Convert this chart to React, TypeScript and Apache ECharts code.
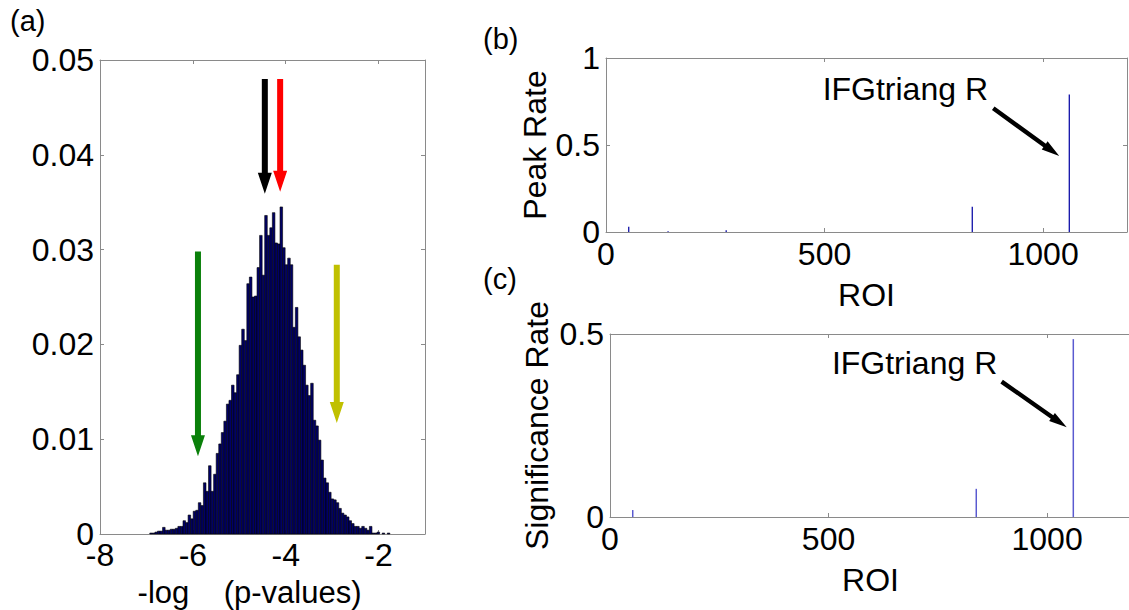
import React, { useEffect, useRef } from "react";
import * as echarts from "echarts";

// ---------- data ----------
// Panel (a): histogram of -log(p-values)
const histFirstCenter = -7.175;
const histBinWidth = 0.055;
const histValues = [
  0, 0, 0, 0, 0, 0.0001, 0.0001, 0.0002, 0.0003, 0.0003,
  0.0007, 0.0004, 0.0004, 0.0005, 0.0005, 0.0006, 0.0008, 0.0008, 0.0014, 0.0012,
  0.002, 0.0016, 0.0024, 0.0025, 0.0033, 0.003, 0.0054, 0.0045, 0.0072, 0.0045,
  0.0063, 0.0085, 0.0095, 0.0107, 0.0119, 0.0137, 0.0141, 0.0157, 0.0149, 0.0168,
  0.0199, 0.0216, 0.0204, 0.0264, 0.0271, 0.025, 0.0251, 0.0281, 0.0315, 0.0273,
  0.0336, 0.0315, 0.0323, 0.0339, 0.0307, 0.0306, 0.0345, 0.0302, 0.0284, 0.0291,
  0.0284, 0.0218, 0.0239, 0.0208, 0.0194, 0.0178, 0.0157, 0.0146, 0.0159, 0.012,
  0.0114, 0.0099, 0.0078, 0.0059, 0.0054, 0.0044, 0.0037, 0.0036, 0.0033, 0.0027,
  0.0022, 0.002, 0.0018, 0.0014, 0.0011, 0.0008, 0.0008, 0.0006, 0.0008, 0.0006,
  0.0004, 0.0008, 0.0001, 0.0001, 0.0002, 0, 0.0001, 0, 0.0001, 0,
];
const histXTicks = { min: -8, max: -1, interval: 2 };
const histYTicks = { min: 0, max: 0.05, interval: 0.01 };
const histXName = "-log    (p-values)   ";
const histArrowX = [-4.45, -4.12, -5.89, -2.9];
const histArrowTop = [0.048, 0.048, 0.0298, 0.0284];
const histArrowTip = [0.0359, 0.0361, 0.0082, 0.0117];
const histArrowColors = ["#000000", "#ff0000", "#0a800a", "#c0c000"];

// Panel (b): peak rate per ROI
const roiMax = 1192;
const roiInterval = 500;
const peakRoi = [52, 142, 275, 838, 1060];
const peakRate = [0.03, 0.005, 0.01, 0.145, 0.79];
const peakArrow = [886, 0.711, 1037, 0.437, 874, 0.822];

// Panel (c): significance rate per ROI
const sigRoi = [52, 838, 1060];
const sigRate = [0.019, 0.077, 0.486];
const sigArrow = [896, 0.37, 1045, 0.245, 886, 0.421];

const annotationText = "IFGtriang R";
const panelLetters = ["(a)", "(b)", "(c)"];

// ---------- style ----------
const FONT = '"Liberation Sans", Arial, Helvetica, sans-serif';
const GRAY = "#8a8a8a";
const FS = 32;

const fmt = (v: number) => String(+(+v).toFixed(4));

function bottomAxis(
  gridIndex: number,
  min: number,
  max: number,
  interval: number,
  name: string,
  nameGap: number,
  margin: number,
  nameSize: number
) {
  return {
    type: "value",
    gridIndex,
    position: "bottom",
    min,
    max,
    interval,
    name,
    nameLocation: "middle",
    nameGap,
    nameMoveOverlap: false,
    nameTextStyle: { fontSize: nameSize, lineHeight: 28, color: "#000", fontFamily: FONT },
    axisLine: { show: true, onZero: false, lineStyle: { color: GRAY, width: 1 } },
    axisTick: { show: true, inside: true, length: 4, lineStyle: { color: GRAY } },
    axisLabel: {
      show: true,
      fontSize: FS,
      lineHeight: 24,
      color: "#000",
      fontFamily: FONT,
      margin,
      showMaxLabel: false,
      formatter: fmt,
    },
    splitLine: { show: false },
  };
}
function topAxis(gridIndex: number, min: number, max: number, interval: number) {
  return {
    type: "value",
    gridIndex,
    position: "top",
    min,
    max,
    interval,
    axisLine: { show: true, onZero: false, lineStyle: { color: GRAY, width: 1 } },
    axisTick: { show: true, inside: true, length: 4, lineStyle: { color: GRAY } },
    axisLabel: { show: false },
    splitLine: { show: false },
  };
}
function leftAxis(gridIndex: number, min: number, max: number, interval: number, name: string, nameGap: number) {
  return {
    type: "value",
    gridIndex,
    position: "left",
    min,
    max,
    interval,
    name,
    nameLocation: "middle",
    nameGap,
    nameMoveOverlap: false,
    nameTextStyle: { fontSize: FS, lineHeight: 32, color: "#000", fontFamily: FONT },
    axisLine: { show: true, onZero: false, lineStyle: { color: GRAY, width: 1 } },
    axisTick: { show: true, inside: true, length: 4, lineStyle: { color: GRAY } },
    axisLabel: { show: true, fontSize: FS, lineHeight: 20, color: "#000", fontFamily: FONT, margin: 6, formatter: fmt },
    splitLine: { show: false },
  };
}
function rightAxis(gridIndex: number, min: number, max: number, interval: number) {
  return {
    type: "value",
    gridIndex,
    position: "right",
    min,
    max,
    interval,
    axisLine: { show: true, onZero: false, lineStyle: { color: GRAY, width: 1 } },
    axisTick: { show: true, inside: true, length: 4, lineStyle: { color: GRAY } },
    axisLabel: { show: false },
    splitLine: { show: false },
  };
}

function spikeSeries(axisIndex: number, xs: number[], ys: number[], color: string, width: number) {
  return {
    type: "custom",
    xAxisIndex: axisIndex,
    yAxisIndex: axisIndex,
    encode: { x: 0, y: 1 },
    data: xs.map((x, i) => [x, ys[i]]),
    renderItem: (_params: any, api: any) => {
      const x = api.value(0);
      const y = api.value(1);
      const p0 = api.coord([x, 0]);
      const p1 = api.coord([x, y]);
      return {
        type: "line",
        shape: { x1: p0[0], y1: p0[1], x2: p1[0], y2: p1[1] },
        style: { stroke: color, lineWidth: width },
      };
    },
  };
}

function annotationSeries(axisIndex: number, arrow: number[]) {
  return {
    type: "custom",
    xAxisIndex: axisIndex,
    yAxisIndex: axisIndex,
    encode: { x: [0, 2, 4], y: [1, 3, 5] },
    data: [arrow],
    renderItem: (_params: any, api: any) => {
      const a = api.coord([api.value(0), api.value(1)]);
      const b = api.coord([api.value(2), api.value(3)]);
      const t = api.coord([api.value(4), api.value(5)]);
      const dx = b[0] - a[0];
      const dy = b[1] - a[1];
      const len = Math.sqrt(dx * dx + dy * dy);
      const ux = dx / len;
      const uy = dy / len;
      const nx = -uy;
      const ny = ux;
      const sw = 2.2;
      const hw = 5;
      const hl = 18;
      const bx = b[0] - ux * hl;
      const by = b[1] - uy * hl;
      const pts = [
        [a[0] + nx * sw, a[1] + ny * sw],
        [bx + nx * sw, by + ny * sw],
        [bx + nx * hw, by + ny * hw],
        [b[0], b[1]],
        [bx - nx * hw, by - ny * hw],
        [bx - nx * sw, by - ny * sw],
        [a[0] - nx * sw, a[1] - ny * sw],
      ];
      return {
        type: "group",
        children: [
          { type: "polygon", shape: { points: pts }, style: { fill: "#000" } },
          {
            type: "text",
            x: t[0],
            y: t[1],
            style: {
              text: annotationText,
              fill: "#000",
              fontSize: 32,
              fontFamily: FONT,
              align: "right",
              verticalAlign: "middle",
            },
          },
        ],
      };
    },
  };
}

export default function App() {
  const ref = useRef<HTMLDivElement>(null);

  useEffect(() => {
    document.body.style.margin = "0";
    if (!ref.current) return;
    const chart = echarts.init(ref.current, null, { renderer: "svg" });

    const option: any = {
      animation: false,
      backgroundColor: "#ffffff",
      textStyle: { fontFamily: FONT },
      grid: [
        { left: 100, top: 60, width: 325, height: 474, containLabel: false, outerBoundsMode: "none" },
        { left: 606, top: 58, width: 521, height: 174, containLabel: false, outerBoundsMode: "none" },
        { left: 610, top: 334, width: 521, height: 183, containLabel: false, outerBoundsMode: "none" },
      ],
      xAxis: [
        bottomAxis(0, histXTicks.min, histXTicks.max, histXTicks.interval, histXName, 44, 9, 31),
        topAxis(0, histXTicks.min, histXTicks.max, histXTicks.interval),
        bottomAxis(1, 0, roiMax, roiInterval, "ROI", 49, 10, 32),
        topAxis(1, 0, roiMax, roiInterval),
        bottomAxis(2, 0, roiMax, roiInterval, "ROI", 49, 10, 32),
        topAxis(2, 0, roiMax, roiInterval),
      ],
      yAxis: [
        leftAxis(0, histYTicks.min, histYTicks.max, histYTicks.interval, "", 0),
        rightAxis(0, histYTicks.min, histYTicks.max, histYTicks.interval),
        leftAxis(1, 0, 1, 0.5, "Peak Rate", 55),
        rightAxis(1, 0, 1, 0.5),
        leftAxis(2, 0, 0.5, 0.5, "Significance Rate", 57),
        rightAxis(2, 0, 0.5, 0.5),
      ],
      graphic: [
        { type: "text", left: 10, top: 6, style: { text: panelLetters[0], fontSize: 29, fontFamily: FONT, fill: "#000" } },
        { type: "text", left: 483, top: 24, style: { text: panelLetters[1], fontSize: 29, fontFamily: FONT, fill: "#000" } },
        { type: "text", left: 483, top: 264, style: { text: panelLetters[2], fontSize: 29, fontFamily: FONT, fill: "#000" } },
      ],
      series: [
        {
          type: "custom",
          xAxisIndex: 0,
          yAxisIndex: 0,
          encode: { x: 0, y: 1 },
          data: histValues.map((v, i) => [histFirstCenter + i * histBinWidth, v]),
          renderItem: (_params: any, api: any) => {
            const c = api.value(0);
            const v = api.value(1);
            if (!v) return null;
            const p1 = api.coord([c - histBinWidth / 2, v]);
            const p2 = api.coord([c + histBinWidth / 2, 0]);
            return {
              type: "rect",
              shape: { x: p1[0], y: p1[1], width: p2[0] - p1[0], height: p2[1] - p1[1] },
              style: { fill: "#000066", stroke: "#000000", lineWidth: 0.6 },
            };
          },
        },
        {
          type: "custom",
          xAxisIndex: 0,
          yAxisIndex: 0,
          encode: { x: 0, y: [1, 2] },
          data: histArrowX.map((x, i) => [x, histArrowTop[i], histArrowTip[i]]),
          renderItem: (params: any, api: any) => {
            const x = api.value(0);
            const pt = api.coord([x, api.value(1)]);
            const pp = api.coord([x, api.value(2)]);
            const cx = pt[0];
            const sw = 3;
            const hw = 7;
            const hl = 21;
            return {
              type: "polygon",
              shape: {
                points: [
                  [cx - sw, pt[1]],
                  [cx + sw, pt[1]],
                  [cx + sw, pp[1] - hl],
                  [cx + hw, pp[1] - hl],
                  [cx, pp[1]],
                  [cx - hw, pp[1] - hl],
                  [cx - sw, pp[1] - hl],
                ],
              },
              style: { fill: histArrowColors[params.dataIndex] },
            };
          },
        },
        spikeSeries(2, peakRoi, peakRate, "#1010a8", 1.3),
        annotationSeries(2, peakArrow),
        spikeSeries(4, sigRoi, sigRate, "#5a5ad0", 1.5),
        annotationSeries(4, sigArrow),
      ],
    };

    chart.setOption(option);
    return () => {
      chart.dispose();
    };
  }, []);

  return <div ref={ref} style={{ width: 1129, height: 610 }} />;
}
